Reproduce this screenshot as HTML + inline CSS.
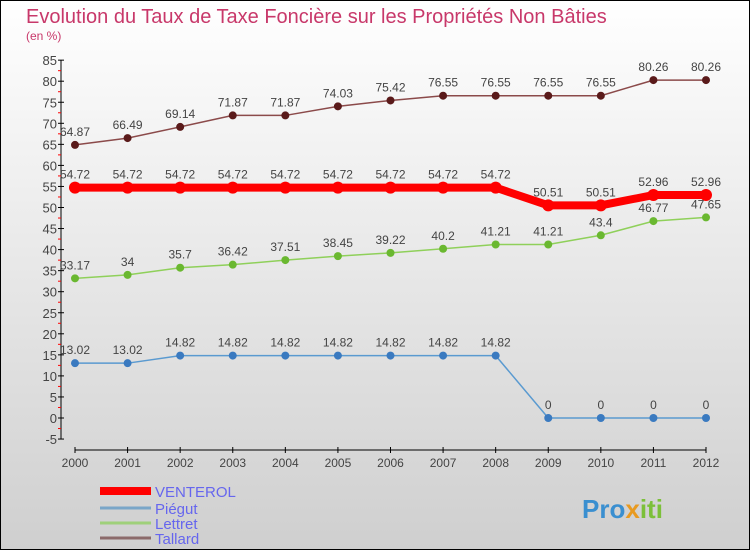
<!DOCTYPE html>
<html><head><meta charset="utf-8"><style>
body{margin:0;}
#c{width:750px;height:550px;position:relative;overflow:hidden;font-family:"Liberation Sans",sans-serif;}
</style></head><body>
<div id="c">
<svg id="s" width="750" height="550" xmlns="http://www.w3.org/2000/svg">
<defs><linearGradient id="bg" x1="0" y1="0" x2="0" y2="1"><stop offset="0" stop-color="#ffffff"/><stop offset="1" stop-color="#cfcfcf"/></linearGradient></defs>
<rect x="0.5" y="0.5" width="749" height="549" fill="url(#bg)" stroke="#000"/>
<text x="26" y="23" font-size="20" fill="#c8386a">Evolution du Taux de Taxe Foncière sur les Propriétés Non Bâties</text>
<text x="26" y="40" font-size="12" fill="#c8386a">(en %)</text>
<g id="axes"></g><g id="series"></g><g id="legend"></g>
<text x="582" y="518" font-size="26" font-weight="bold" fill="#3a8fd0">Pro<tspan fill="#e89a20">x</tspan><tspan fill="#7cc03a">iti</tspan></text>
</svg></div>
<script>
const years=[2000,2001,2002,2003,2004,2005,2006,2007,2008,2009,2010,2011,2012];
const yTicks=[-5,0,5,10,15,20,25,30,35,40,45,50,55,60,65,70,75,80,85];
const venterol=[54.72,54.72,54.72,54.72,54.72,54.72,54.72,54.72,54.72,50.51,50.51,52.96,52.96];
const piegut=[13.02,13.02,14.82,14.82,14.82,14.82,14.82,14.82,14.82,0,0,0,0];
const lettret=[33.17,34,35.7,36.42,37.51,38.45,39.22,40.2,41.21,41.21,43.4,46.77,47.65];
const tallard=[64.87,66.49,69.14,71.87,71.87,74.03,75.42,76.55,76.55,76.55,76.55,80.26,80.26];
const NS="http://www.w3.org/2000/svg";
function X(i){return 75+i*(706-75)/12;}
function Y(v){return 418-v*4.21;}
function mk(t,a,p){const e=document.createElementNS(NS,t);for(const k in a)e.setAttribute(k,a[k]);p.appendChild(e);return e;}
const ax=document.getElementById('axes');
let yl=mk('line',{x1:61,y1:Y(85),x2:61,y2:Y(-5),stroke:'#000'},ax);


yTicks.forEach(v=>{
 mk('line',{x1:58,x2:64,y1:Y(v),y2:Y(v),stroke:'#000'},ax);
 if(v<85)mk('line',{x1:58,x2:61,y1:Y(v+2.5),y2:Y(v+2.5),stroke:'#f00'},ax);
 const t=mk('text',{x:57,y:Y(v)+5,'font-size':13,fill:'#444','text-anchor':'end'},ax);t.textContent=v;
 
 
});
let xl=mk('line',{x1:75,y1:450,x2:706,y2:450,stroke:'#000'},ax);


years.forEach((y,i)=>{
 mk('line',{x1:X(i),x2:X(i),y1:447,y2:453,stroke:'#000'},ax);
 const t=mk('text',{x:X(i),y:467,'font-size':12,fill:'#444','text-anchor':'middle'},ax);t.textContent=y;
 
 
});
const sg=document.getElementById('series');
function draw(arr,col,dot,w,r,name){
 const g=mk('g',{},sg);
 
 
 mk('polyline',{points:arr.map((v,i)=>X(i)+','+Y(v)).join(' '),fill:'none',stroke:col,'stroke-width':w},g);
 arr.forEach((v,i)=>{
  const c=mk('circle',{cx:X(i),cy:Y(v),r:r,fill:dot},g);
  
  
  const t=mk('text',{x:X(i),y:Y(v)-9,'font-size':12,fill:'#444','text-anchor':'middle'},g);
  t.textContent=String(v);
 });
}
draw(tallard,'#8b4a4a','#5a1a1a',1.5,4,'tallard-series');
draw(venterol,'#f00','#f00',8,6,'venterol-series');
draw(lettret,'#8fd05a','#6ab830',1.5,4,'lettret-series');
draw(piegut,'#5a9ad0','#3a7ac0',1.5,4,'piegut-series');
const lg=document.getElementById('legend');
[['VENTEROL','#f00',8,491],['Piégut','#7aa6c8',3,508],['Lettret','#9fd07a',3,523],['Tallard','#8b6a6a',3,538]].forEach(e=>{
 const g=mk('g',{},lg);
 
 
 mk('line',{x1:100,x2:151,y1:e[3],y2:e[3],stroke:e[1],'stroke-width':e[2]},g);
 const t=mk('text',{x:155,y:e[3]+6,'font-size':15,fill:'#6666ee'},g);t.textContent=e[0];
});
</script>
</body></html>
